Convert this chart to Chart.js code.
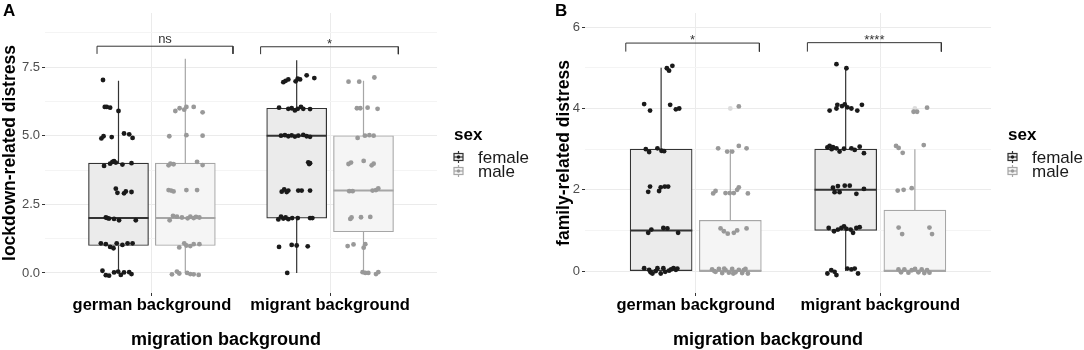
<!DOCTYPE html>
<html>
<head>
<meta charset="utf-8">
<script src="https://cdn.jsdelivr.net/npm/chart.js@4.4.1/dist/chart.umd.min.js"></script>
<style>
  body { margin: 0; background: #fff; }
  .panel { position: absolute; top: 0; }
</style>
</head>
<body>
<div class="panel" style="left:0"><canvas id="panel-a" width="540" height="350"></canvas></div>
<div class="panel" style="left:540px"><canvas id="panel-b" width="544" height="350"></canvas></div>
<script>
// --- DATA ---
const groups = ['german background', 'migrant background'];
const sexes = ['female', 'male'];

// box stats per group: [lower whisker, q1, median, q3, upper whisker]
const lockFemaleStats = [[0, 1, 2, 4, 7], [0, 2, 5, 6, 7.75]];
const lockMaleStats = [[0, 1, 2, 4, 7.8], [0, 1.5, 3, 5, 7]];
const famFemaleStats = [[0, 0, 1, 3, 5], [0, 1, 2, 3, 5]];
const famMaleStats = [[0, 0, 0, 1.25, 3], [0, 0, 0, 1.5, 3]];
const famMaleOutliers = [4, 4];

// jittered observations: horizontal jitter (category units) and value
const lockGerFemJ = [-0.087,-0.077,-0.066,-0.047,0.000,-0.096,-0.084,-0.038,0.031,0.060,0.079,-0.081,-0.047,-0.034,-0.025,-0.015,0.022,0.073,-0.015,-0.006,0.031,0.041,0.073,-0.071,-0.062,-0.053,-0.025,0.003,0.097,-0.099,-0.071,-0.047,-0.028,-0.010,0.022,0.051,0.079,-0.090,-0.071,-0.053,-0.025,-0.002,0.013,0.031,0.060,0.073];
const lockGerFemY = [7.03,6.05,6.05,6.02,5.9,4.9,4.98,4.95,5.08,5.05,4.92,3.9,3.98,4.05,4.07,4.02,3.95,4.0,3.07,2.92,2.9,2.97,2.95,2.02,2.0,1.98,1.97,1.92,1.92,1.08,1.05,0.95,0.9,1.08,1.02,1.08,1.08,0.08,-0.08,-0.1,0.02,0.05,-0.07,0.02,0.03,-0.04];
const lockGerMalJ = [-0.056,-0.032,-0.006,0.006,0.047,0.097,-0.090,0.006,0.097,-0.094,-0.084,-0.066,0.066,0.097,-0.094,-0.080,-0.066,0.006,0.066,-0.088,-0.069,-0.047,-0.019,0.013,0.028,0.047,0.060,0.079,-0.034,-0.006,0.006,0.028,0.047,0.079,-0.075,-0.047,-0.034,0.010,0.028,0.047,0.075];
const lockGerMalY = [5.9,6.0,5.95,6.05,6.05,5.85,4.98,5.02,5.0,3.92,3.98,3.96,4.05,3.93,3.02,3.0,2.97,3.02,3.02,1.92,2.08,2.05,2.02,1.99,2.05,2.0,2.04,2.02,0.93,1.08,1.0,0.98,1.05,1.05,-0.05,0.05,-0.02,0.0,-0.04,-0.05,-0.07];
const lockMigFemJ = [-0.075,-0.062,-0.047,-0.006,0.006,0.019,0.056,0.099,-0.099,-0.047,-0.028,-0.010,0.006,0.024,0.037,0.075,-0.088,-0.066,-0.047,-0.028,-0.010,0.009,0.037,0.056,0.075,0.065,0.070,0.075,-0.084,-0.070,-0.056,-0.047,0.009,0.028,0.075,-0.103,-0.088,-0.075,-0.062,-0.047,-0.025,0.006,0.075,0.088,-0.099,-0.028,0.000,0.062,-0.053];
const lockMigFemY = [6.95,7.0,7.05,6.98,7.08,7.05,7.2,7.1,6.02,5.98,6.0,5.92,5.98,6.05,5.98,5.97,5.0,5.02,4.98,5.01,4.97,5.0,5.03,4.98,4.96,4.03,3.97,4.0,2.96,3.04,2.95,3.0,3.0,3.0,3.0,1.95,2.05,1.98,2.02,1.96,2.0,2.0,2.0,2.0,0.95,1.02,1.0,0.97,0.0];
const lockMigMalJ = [-0.084,-0.024,0.061,-0.037,-0.018,0.023,0.079,-0.033,0.008,0.033,0.057,-0.084,-0.070,0.001,0.046,0.057,-0.080,-0.061,0.051,0.070,0.083,-0.074,-0.067,-0.014,0.038,-0.089,-0.056,0.001,0.010,-0.005,0.010,0.027,0.070,0.083];
const lockMigMalY = [6.97,6.97,7.12,6.0,6.0,6.02,5.98,4.92,5.0,5.02,5.0,3.97,4.02,4.08,3.92,3.98,2.98,2.98,3.0,3.02,3.08,1.97,2.02,2.03,2.04,0.98,1.04,0.92,1.05,0.03,0.0,0.0,-0.04,0.03];

const famGerFemJ = [0.031,0.043,0.061,-0.092,-0.060,0.049,0.080,0.098,-0.083,-0.065,-0.020,0.002,0.016,-0.070,-0.060,-0.011,-0.002,0.020,0.038,-0.070,-0.053,0.012,0.034,0.092,-0.092,-0.065,-0.057,-0.047,-0.029,-0.020,-0.002,0.012,0.022,0.043,0.054,0.067,0.080,0.088];
const famGerFemY = [4.99,4.93,5.05,4.11,3.95,4.09,3.98,4.0,3.0,2.93,3.02,2.96,2.95,1.95,2.08,1.97,2.06,2.08,2.08,0.94,1.02,1.06,1.05,0.94,0.07,0.03,-0.03,-0.06,0.0,0.07,-0.06,0.07,-0.02,0.01,0.04,0.07,0.03,0.06];
const famGerMalJ = [0.046,-0.066,-0.017,0.010,0.046,0.088,-0.093,-0.080,-0.026,-0.003,0.019,0.037,0.046,0.095,-0.053,-0.035,-0.014,0.019,0.037,0.088,-0.099,-0.087,-0.080,-0.062,-0.044,-0.033,-0.026,-0.008,0.010,0.016,0.028,0.046,0.064,0.073,0.082,0.095];
const famGerMalY = [4.05,3.02,2.94,2.94,3.08,3.02,1.91,1.97,1.92,1.92,1.92,2.0,2.06,1.91,1.05,0.98,0.92,0.94,1.0,1.05,0.04,0.0,-0.02,0.05,-0.05,0.06,0.02,-0.04,0.05,-0.06,-0.03,0.03,-0.05,0.02,0.05,-0.06];
const famMigFemJ = [-0.050,0.004,-0.087,-0.050,-0.045,-0.020,-0.005,0.009,0.031,0.063,0.088,-0.099,-0.087,-0.076,-0.069,-0.050,-0.033,-0.009,0.031,0.049,0.076,0.099,-0.069,-0.060,-0.042,-0.033,-0.005,0.022,0.058,0.099,-0.092,-0.063,-0.042,-0.023,-0.009,0.004,0.027,0.040,0.058,0.076,-0.099,-0.078,-0.060,-0.050,0.009,0.031,0.049,0.067];
const famMigFemY = [5.09,4.99,3.95,4.0,4.09,4.06,4.1,4.03,4.0,3.95,4.09,3.04,3.08,3.0,3.05,3.02,2.94,3.01,3.02,2.98,3.06,2.9,2.05,1.94,2.09,1.94,2.1,2.1,1.9,2.02,1.06,0.98,1.02,1.06,1.1,1.04,1.02,0.94,1.06,1.08,-0.06,0.02,-0.02,-0.1,0.06,0.04,0.06,-0.06];
const famMigMalJ = [-0.007,0.012,0.066,-0.102,-0.088,-0.066,0.048,-0.093,-0.061,-0.017,-0.088,-0.069,0.079,0.093,-0.089,-0.075,-0.057,-0.035,-0.017,0.001,0.019,0.037,0.051,0.066,0.079];
const famMigMalY = [3.92,3.92,4.02,3.08,3.03,2.91,3.1,1.98,2.0,2.04,1.07,0.91,1.07,0.91,0.04,-0.03,0.04,-0.04,0.02,0.05,-0.03,0.04,-0.05,0.02,-0.04];

// axis ticks
const lockTicks = [0, 2.5, 5, 7.5];
const lockMinorTicks = [1.25, 3.75, 6.25, 8.75];
const famTicks = [0, 2, 4, 6];
const famMinorTicks = [1, 3, 5];

// significance brackets: [from, to] on the x axis, top and foot values, label
const lockBrackets = [[0.692, 1.455], [1.610, 2.383]];
const lockBracketTop = [8.26, 8.24];
const lockBracketFoot = [7.98, 7.97];
const lockSig = ['ns', '*'];
const famBrackets = [[0.621, 1.345], [1.605, 2.331]];
const famBracketTop = [5.61, 5.62];
const famBracketFoot = [5.40, 5.40];
const famSig = ['*', '****'];

// --- STYLE ---
const FONT = '"Liberation Sans", Arial, sans-serif';
const DODGE = 0.1875;
const HALF_BOX = 0.16875;
const COLORS = {
    female: { fill: '#ebebeb', line: '#333333', point: '#1a1a1a' },
    male: { fill: '#f5f5f5', line: '#a6a6a6', point: '#999999' },
    outlier: '#dcdcdc',
};

function jitterPoints(center, jit, ys) {
    return jit.map((j, i) => ({ x: center + j, y: ys[i] }));
}

function boxCenter(g, s) {
    return g + 1 + (s === 0 ? -DODGE : DODGE);
}

// overlay: panel letter, x title, bracket labels and legend
function makeOverlay(o) {
    return {
        id: 'overlay',
        afterDraw(chart) {
            const ctx = chart.ctx;
            const area = chart.chartArea;
            const xs = chart.scales.x, ys = chart.scales.y;
            ctx.save();
            ctx.fillStyle = '#000';
            ctx.textBaseline = 'alphabetic';

            // panel letter
            ctx.font = `bold 17px ${FONT}`;
            ctx.textAlign = 'left';
            ctx.fillText(o.letter, o.letterX, 15.5);

            // x axis title
            ctx.font = `bold 18px ${FONT}`;
            ctx.textAlign = 'center';
            ctx.fillText('migration background', (area.left + area.right) / 2 + o.titleShift, 345);

            // significance labels
            ctx.font = `13px ${FONT}`;
            ctx.fillStyle = '#333';
            o.brackets.forEach((b, i) => {
                const px = xs.getPixelForValue((b[0] + b[1]) / 2);
                const py = ys.getPixelForValue(o.bracketTop[i]);
                const m = ctx.measureText(o.sig[i]);
                ctx.fillText(o.sig[i], px, py - 3 - m.actualBoundingBoxDescent);
            });

            // legend
            const lx = area.right + 17;
            ctx.textAlign = 'left';
            ctx.fillStyle = '#000';
            ctx.font = `bold 17px ${FONT}`;
            ctx.fillText('sex', lx, 139.5);
            ctx.font = `17px ${FONT}`;
            sexes.forEach((s, i) => {
                const c = COLORS[s];
                const cy = 157 + i * 14;
                ctx.strokeStyle = c.line;
                ctx.lineWidth = 1.2;
                ctx.beginPath();
                ctx.moveTo(lx + 4.5, cy - 6);
                ctx.lineTo(lx + 4.5, cy + 6);
                ctx.stroke();
                ctx.fillStyle = c.fill;
                ctx.fillRect(lx, cy - 3.5, 9, 7);
                ctx.strokeRect(lx, cy - 3.5, 9, 7);
                ctx.beginPath();
                ctx.moveTo(lx, cy);
                ctx.lineTo(lx + 9, cy);
                ctx.stroke();
                ctx.fillStyle = c.point;
                ctx.beginPath();
                ctx.arc(lx + 4.5, cy, 1.7, 0, Math.PI * 2);
                ctx.fill();
                ctx.fillStyle = '#1a1a1a';
                ctx.fillText(s, lx + 24, cy + 6);
            });
            ctx.restore();
        }
    };
}

function buildPanel(canvasId, o) {
    const boxes = [], boxFill = [], boxLine = [];
    const whiskers = [[], []], medians = [[], []];
    for (let g = 0; g < groups.length; g++) {
        for (let s = 0; s < sexes.length; s++) {
            const st = o.stats[s][g];
            const x = boxCenter(g, s);
            boxes.push({ x: x, y: [st[1], st[3]] });
            boxFill.push(COLORS[sexes[s]].fill);
            boxLine.push(COLORS[sexes[s]].line);
            whiskers[s].push({ x, y: st[0] }, { x, y: st[1] }, { x, y: null },
                             { x, y: st[3] }, { x, y: st[4] }, { x, y: null });
            medians[s].push({ x: x - HALF_BOX, y: st[2] }, { x: x + HALF_BOX, y: st[2] }, { x: x + HALF_BOX, y: null });
        }
    }

    const bracketData = [];
    o.brackets.forEach((b, i) => {
        bracketData.push({ x: b[0], y: o.bracketFoot[i] }, { x: b[0], y: o.bracketTop[i] },
                         { x: b[1], y: o.bracketTop[i] }, { x: b[1], y: o.bracketFoot[i] },
                         { x: b[1], y: null });
    });

    const lineDs = (data, color, width, order) => ({
        type: 'line', data, borderColor: color, borderWidth: width,
        pointRadius: 0, spanGaps: false, fill: false, order
    });
    const pointDs = (data, color, order) => ({
        type: 'scatter', data, pointRadius: 2.4, pointBorderWidth: 0,
        pointBackgroundColor: color, backgroundColor: color, order
    });

    const datasets = [
        lineDs(whiskers[0], COLORS.female.line, 1.2, 6),
        lineDs(whiskers[1], COLORS.male.line, 1.2, 6),
        {
            type: 'bar', data: boxes, backgroundColor: boxFill, borderColor: boxLine,
            borderWidth: 1.2, borderSkipped: false, barThickness: o.boxPx, order: 5
        },
        lineDs(medians[0], COLORS.female.line, 2, 4),
        lineDs(medians[1], COLORS.male.line, 2, 4),
        pointDs(jitterPoints(boxCenter(0, 0), o.jit[0][0], o.val[0][0]), COLORS.female.point, 2),
        pointDs(jitterPoints(boxCenter(1, 0), o.jit[1][0], o.val[1][0]), COLORS.female.point, 2),
        pointDs(jitterPoints(boxCenter(0, 1), o.jit[0][1], o.val[0][1]), COLORS.male.point, 2),
        pointDs(jitterPoints(boxCenter(1, 1), o.jit[1][1], o.val[1][1]), COLORS.male.point, 2),
        lineDs(bracketData, '#333333', 1, 1),
    ];
    if (o.outliers) {
        datasets.push(pointDs(o.outliers.map((v, g) => ({ x: boxCenter(g, 1), y: v })), COLORS.outlier, 3));
    }

    const major = o.ticks;
    const allTicks = o.ticks.concat(o.minorTicks).sort((a, b) => a - b);

    return new Chart(document.getElementById(canvasId), {
        type: 'scatter',
        data: { datasets },
        plugins: [makeOverlay(o)],
        options: {
            responsive: false,
            devicePixelRatio: 1,
            animation: false,
            events: [],
            layout: { padding: { top: 13, right: o.padRight, left: 0, bottom: 0 } },
            plugins: { legend: { display: false }, tooltip: { enabled: false } },
            scales: {
                x: {
                    type: 'linear', min: 0.4, max: 2.6, offset: false,
                    afterBuildTicks: s => { s.ticks = [{ value: 1 }, { value: 2 }]; },
                    afterFit: s => { s.height = 57; },
                    border: { display: false },
                    grid: { offset: false, color: '#ebebeb', lineWidth: 1, tickLength: 3, tickColor: '#333' },
                    ticks: {
                        padding: 0, color: '#000', minRotation: 0, maxRotation: 0, autoSkip: false,
                        font: { family: FONT, size: 16.5, weight: 'bold' },
                        callback: v => groups[Math.round(v) - 1]
                    }
                },
                y: {
                    min: o.yMin, max: o.yMax,
                    afterBuildTicks: s => { s.ticks = allTicks.map(v => ({ value: v })); },
                    afterFit: s => { s.width = 45; },
                    border: { display: false },
                    grid: {
                        lineWidth: 1, tickLength: 3,
                        color: c => (c.tick && major.includes(c.tick.value)) ? '#ebebeb' : '#f4f4f4',
                        tickColor: c => (c.tick && major.includes(c.tick.value)) ? '#333' : 'rgba(0,0,0,0)'
                    },
                    ticks: {
                        padding: 2, color: '#4d4d4d', font: { family: FONT, size: 13 },
                        callback: v => major.includes(v) ? o.fmt(v) : ''
                    },
                    title: {
                        display: true, text: o.yTitle, color: '#000',
                        font: { family: FONT, size: 17.5, weight: 'bold' },
                        padding: { top: o.titlePad, bottom: 0 }
                    }
                }
            }
        }
    });
}

buildPanel('panel-a', {
    letter: 'A', letterX: 3, titleShift: -15,
    stats: [lockFemaleStats, lockMaleStats],
    jit: [[lockGerFemJ, lockGerMalJ], [lockMigFemJ, lockMigMalJ]],
    val: [[lockGerFemY, lockGerMalY], [lockMigFemY, lockMigMalY]],
    ticks: lockTicks, minorTicks: lockMinorTicks, fmt: v => v.toFixed(1),
    yMin: -0.73, yMax: 9.47, yTitle: 'lockdown-related distress', titlePad: 0,
    brackets: lockBrackets, bracketTop: lockBracketTop, bracketFoot: lockBracketFoot, sig: lockSig,
    boxPx: 60, padRight: 103
});

buildPanel('panel-b', {
    letter: 'B', letterX: 15, titleShift: -20,
    stats: [famFemaleStats, famMaleStats],
    jit: [[famGerFemJ, famGerMalJ], [famMigFemJ, famMigMalJ]],
    val: [[famGerFemY, famGerMalY], [famMigFemY, famMigMalY]],
    outliers: famMaleOutliers,
    ticks: famTicks, minorTicks: famMinorTicks, fmt: v => String(v),
    yMin: -0.54, yMax: 6.35, yTitle: 'family-related distress', titlePad: 13.5,
    brackets: famBrackets, bracketTop: famBracketTop, bracketFoot: famBracketFoot, sig: famSig,
    boxPx: 62, padRight: 93
});
</script>
</body>
</html>
